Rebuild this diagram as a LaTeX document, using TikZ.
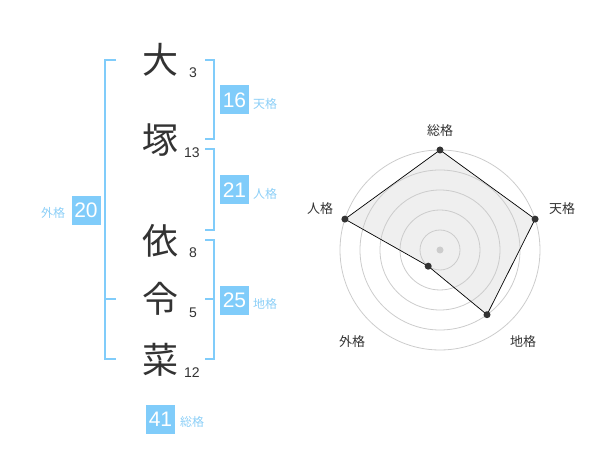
\documentclass[tikz,border=0pt]{standalone}
\usepackage{fontspec}
\setmainfont{Liberation Sans}
\newfontfamily\cjk{Noto Sans CJK JP}
\definecolor{kanji}{HTML}{333333}
\definecolor{accent}{HTML}{80CCFA}
\definecolor{lbl}{HTML}{8CCFF7}
\definecolor{ringc}{HTML}{CCCCCC}
\definecolor{area}{HTML}{EFEFEF}
\begin{document}
\begin{tikzpicture}[x=1pt,y=-1pt,
 kanjinode/.style={font=\cjk\fontsize{36}{36}\selectfont, text=kanji, inner sep=0pt},
 strokes/.style={font=\fontsize{14}{14}\selectfont, text=kanji, inner sep=0pt},
 valbox/.style={fill=accent, text=white, font=\fontsize{21}{21}\selectfont, minimum width=29pt, minimum height=29pt, inner sep=0pt},
 gridlabel/.style={font=\cjk\fontsize{12}{12}\selectfont, text=lbl, inner sep=0pt},
 bracket/.style={draw=accent, line width=2pt},
 axislabel/.style={font=\cjk\fontsize{13}{13}\selectfont, text=kanji, inner sep=0pt},
 ring/.style={draw=ringc, line width=0.8pt},
 vdot/.style={circle, fill=kanji, minimum size=7pt, inner sep=0pt},
 radarfill/.style={fill=area},
 radarline/.style={draw=black, line width=0.7pt},
]
\useasboundingbox (0,0) rectangle (600,470);

% kanji
\node[kanjinode] (k1) at (160,60) {大};
\node[kanjinode] (k2) at (160,140) {塚};
\node[kanjinode] (k3) at (160,241) {依};
\node[kanjinode] (k4) at (160,299) {令};
\node[kanjinode] (k5) at (160,360) {菜};
% strokes
\node[strokes] (s1) at (193,73) {3};
\node[strokes] (s2) at (192,153) {13};
\node[strokes] (s3) at (193,253) {8};
\node[strokes] (s4) at (193,313) {5};
\node[strokes] (s5) at (192,373) {12};

% brackets
\draw[bracket] (116,60) -- (105,60) -- (105,359) -- (116,359);
\draw[bracket] (105,299) -- (116,299);
\draw[bracket] (205,60) -- (214,60) -- (214,139) -- (205,139);
\draw[bracket] (205,149) -- (214,149) -- (214,230) -- (205,230);
\draw[bracket] (205,240) -- (214,240) -- (214,359) -- (205,359);
\draw[bracket] (205,299) -- (214,299);

% value boxes
\node[valbox] (ten) at (234.5,100) {16};
\node[valbox] (jin) at (234.5,190) {21};
\node[valbox] (chi) at (234.5,300.5) {25};
\node[valbox] (gai) at (86,210.5) {20};
\node[valbox] (sou) at (160.5,419) {41};
\node[gridlabel] (tenl) at (265,104) {天格};
\node[gridlabel] (jinl) at (265,194) {人格};
\node[gridlabel] (chil) at (265,304) {地格};
\node[gridlabel] (gail) at (53,213) {外格};
\node[gridlabel] (soul) at (192,422) {総格};

% radar
\coordinate (c) at (440,250);
\coordinate (vsou) at (440,150);
\coordinate (vten) at (535.1,219.1);
\coordinate (vchi) at (487.0,314.7);
\coordinate (vgai) at (428.2,266.2);
\coordinate (vjin) at (344.9,219.1);
\fill[radarfill] (vsou) -- (vten) -- (vchi) -- (vgai) -- (vjin) -- cycle;
\foreach \r in {20,40,60,80,100} \draw[ring] (c) circle (\r);
\draw[radarline] (vsou) -- (vten) -- (vchi) -- (vgai) -- (vjin) -- cycle;
\node[circle, fill=ringc, minimum size=7pt, inner sep=0pt] (cdot) at (c) {};
\foreach \v in {vsou,vten,vchi,vgai,vjin} \node[vdot] at (\v) {};
\node[axislabel] (asou) at (440,130.5) {総格};
\node[axislabel] (aten) at (562,209) {天格};
\node[axislabel] (achi) at (523,342) {地格};
\node[axislabel] (agai) at (352,342) {外格};
\node[axislabel] (ajin) at (320,209) {人格};
\end{tikzpicture}
\end{document}
